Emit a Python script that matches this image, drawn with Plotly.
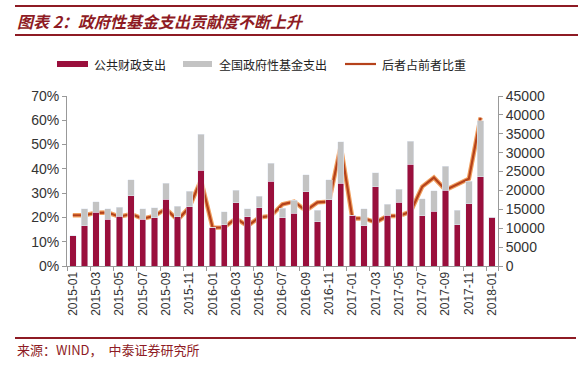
import plotly.graph_objects as go

months = [f"{y}-{m:02d}" for y in (2015, 2016, 2017) for m in range(1, 13)] + ["2018-01"]

public_exp = [8000, 10600, 14200, 12400, 13200, 18600, 12400, 12800, 17700, 13100, 15700, 25400,
              10100, 10900, 16800, 13100, 15400, 22400, 12800, 14000, 19700, 11700, 17500, 21900,
              13500, 10700, 21000, 13500, 16900, 27000, 13300, 14500, 20100, 10900, 16500, 23600,
              12900]
fund_exp = [0, 4500, 2800, 2800, 2400, 4200, 2700, 2600, 4200, 2700, 4100, 9500,
            0, 3500, 3300, 2100, 3000, 4800, 2500, 3400, 4500, 3000, 5300, 11000,
            0, 4400, 3700, 2800, 3400, 6000, 4500, 5400, 6300, 3800, 6000, 14900,
            0]
ratio = [20.9, 20.9, 21.9, 22.0, 20.3, 21.4, 19.5, 20.6, 23.5, 18.9, 24.2, 35.4,
         15.8, 15.9, 19.6, 16.5, 20.0, 20.6, 25.4, 26.5, 22.8, 26.2, 26.5, 49.4,
         19.6, 19.6, 18.0, 20.6, 20.6, 22.4, 32.7, 36.4, 31.3, 33.6, 35.9, 61.1,
         None]
ratio = [None if r is None else r / 100 for r in ratio]

tick_months = months[::2]

RED = "#9A0F3C"
GRAY = "#C3C3C3"
LINE = "#B5421B"
DARK = "#8E1B24"
CJK = "Noto Sans CJK SC"

fig = go.Figure()
fig.add_trace(go.Bar(x=months, y=public_exp, name="公共财政支出", marker_color=RED,
                     yaxis="y2", showlegend=False))
fig.add_trace(go.Bar(x=months, y=fund_exp, name="全国政府性基金支出", marker_color=GRAY,
                     yaxis="y2", showlegend=False))
fig.add_trace(go.Scatter(x=months, y=ratio, name="后者占前者比重", mode="lines",
                         line=dict(color="#F0A060", width=4.5), yaxis="y",
                         showlegend=False, hoverinfo="skip"))
fig.add_trace(go.Scatter(x=months, y=ratio, name="后者占前者比重", mode="lines",
                         line=dict(color=LINE, width=2.2), yaxis="y", showlegend=False))

L, R, T, B = 67, 498, 96, 266
W, H = 580, 365


def px(p):
    return (p - L) / (R - L)


def py(p):
    return (B - p) / (B - T)


shapes = []
# header / footer rules
for yy, x0, x1, w in [(6, 15, 578, 2), (35, 15, 578, 2), (338, 15, 576, 2)]:
    shapes.append(dict(type="line", xref="paper", yref="paper", x0=px(x0), x1=px(x1),
                       y0=py(yy), y1=py(yy), line=dict(color=DARK, width=w)))
# custom legend swatches
shapes.append(dict(type="rect", xref="paper", yref="paper", x0=px(57), x1=px(88),
                   y0=py(67), y1=py(61), fillcolor=RED, line=dict(width=0)))
shapes.append(dict(type="rect", xref="paper", yref="paper", x0=px(183), x1=px(212),
                   y0=py(67), y1=py(61), fillcolor=GRAY, line=dict(width=0)))
shapes.append(dict(type="line", xref="paper", yref="paper", x0=px(345), x1=px(376),
                   y0=py(64), y1=py(64), line=dict(color=LINE, width=2.2)))

annotations = [
    dict(text="<b><i>图表 2：政府性基金支出贡献度不断上升</i></b>", xref="paper", yref="paper",
         x=px(15), y=py(21), xanchor="left", yanchor="middle", showarrow=False,
         font=dict(family=CJK, size=16, color=DARK)),
    dict(text="来源：WIND，  中泰证券研究所", xref="paper", yref="paper",
         x=px(15), y=py(349), xanchor="left", yanchor="middle", showarrow=False,
         font=dict(family=CJK, size=13, color=DARK)),
]
for x0, txt in [(92, "公共财政支出"), (217, "全国政府性基金支出"), (380, "后者占前者比重")]:
    annotations.append(dict(text=txt, xref="paper", yref="paper", x=px(x0), y=py(64),
                            xanchor="left", yanchor="middle", showarrow=False,
                            font=dict(family=CJK, size=12, color="#222")))

fig.update_layout(
    width=W, height=H,
    margin=dict(l=L, r=W - R, t=T, b=H - B, pad=0),
    paper_bgcolor="white", plot_bgcolor="white",
    barmode="stack", bargap=0.45,
    font=dict(family="Liberation Sans", size=12, color="#333"),
    xaxis=dict(type="category", tickmode="array", tickvals=tick_months, ticktext=tick_months,
               tickangle=-90, tickfont=dict(size=12, color="#333"), ticks="outside",
               tickson="boundaries", ticklen=4, tickcolor="#999", showline=True,
               linecolor="#999", showgrid=False, range=[-0.5, len(months) - 0.5],
               automargin=False),
    yaxis=dict(range=[0, 0.7], dtick=0.1, tickformat=".0%", showgrid=False,
               showline=True, linecolor="#999", ticks="outside", ticklen=4,
               tickcolor="#999", tickfont=dict(size=14, color="#333"), zeroline=False,
               automargin=False),
    yaxis2=dict(range=[0, 45000], dtick=5000, tickformat="d", overlaying="y", side="right",
                showgrid=False, showline=True, linecolor="#999", ticks="outside",
                ticklen=4, tickcolor="#999", tickfont=dict(size=14, color="#333"),
                zeroline=False, automargin=False),
    shapes=shapes, annotations=annotations,
)

fig.write_html("out.html", config={"displayModeBar": False},
               post_script="document.body.style.margin='0';")
